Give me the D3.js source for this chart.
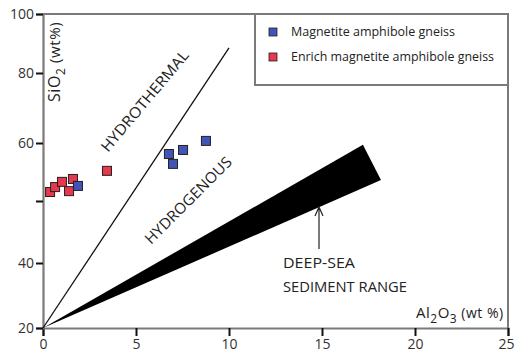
<!DOCTYPE html>
<html><head><meta charset="utf-8">
<script src="https://cdn.jsdelivr.net/npm/d3@7"></script>
<style>body{margin:0;background:#fff}svg{display:block}text{font-family:"Open Sans",sans-serif}</style>
</head><body><svg id="c" width="515" height="358"></svg>
<script>
// ---- data ----
const xTicks = [0, 5, 10, 15, 20, 25];
const yTickValues = [20, 40, 50, 60, 80, 100];
const yTickLabels = ["20", "40", "", "60", "80", "100"];
const seriesNames = ["Magnetite amphibole gneiss", "Enrich magnetite amphibole gneiss"];
const magnetiteAl2O3 = [8.76, 7.53, 6.77, 6.99, 1.88];
const magnetiteSiO2  = [60.6, 58.8, 58.1, 56.4, 52.6];
const enrichAl2O3 = [3.44, 0.38, 0.65, 1.02, 1.40, 1.61];
const enrichSiO2  = [55.2, 51.55, 52.4, 53.3, 51.7, 53.8];
const hydrothermalLine = [[0, 20], [10, 88.5]];
const sedimentWedge = [[0, 20], [17.2, 59.7], [18.17, 53.6]];

// ---- layout ----
const svg = d3.select("#c");
const x = d3.scaleLinear().domain([0, 25]).range([43, 508]);
const y = d3.scaleLinear().domain(yTickValues).range([328, 263, 201, 143, 73, 14]);
const axisCol = "#7a7a7a";

// frame (top and right)
svg.append("path").attr("d", `M${x(0)},${y(100)}H${x(25)}V${y(20)}`)
  .attr("fill", "none").attr("stroke", axisCol).attr("stroke-width", 2);

// legend box
svg.append("rect").attr("x", 255).attr("y", y(100)).attr("width", x(25) - 255).attr("height", 71)
  .attr("fill", "#fff").attr("stroke", axisCol).attr("stroke-width", 2);

// axes
const xAxis = d3.axisBottom(x).tickValues(xTicks).tickSize(8).tickPadding(3).tickFormat(d3.format("d"));
const gx = svg.append("g").attr("transform", `translate(0,${y(20)})`).call(xAxis);
const yAxis = d3.axisLeft(y).tickValues(yTickValues).tickSize(7).tickPadding(2)
  .tickFormat((d, i) => yTickLabels[i]);
const gy = svg.append("g").attr("transform", `translate(${x(0)},0)`).call(yAxis);
[gx, gy].forEach(g => {
  g.select(".domain").attr("stroke", axisCol).attr("stroke-width", 2.2);
  g.selectAll(".tick line").attr("stroke", "#111").attr("stroke-width", 2);
  g.selectAll(".tick text").attr("fill", "#333").style("font-size", "14px").style("font-family", '"Open Sans",sans-serif');
});
gy.selectAll(".tick text").attr("dy", "0.35em");
gx.selectAll(".tick text").filter(d => d === 25).attr("dx", -2);

// wedge
const line = d3.line().x(d => x(d[0])).y(d => y(d[1]));
svg.append("path").attr("d", line(sedimentWedge) + "Z").attr("fill", "#000");
// hydrothermal line
svg.append("path").attr("d", line(hydrothermalLine)).attr("stroke", "#111").attr("stroke-width", 1.3).attr("fill", "none");

// arrow
const ax = 319;
svg.append("path").attr("d", `M${ax},249V208M${ax-4},216L${ax},207L${ax+4},216`)
  .attr("stroke", "#222").attr("stroke-width", 1.2).attr("fill", "none");

// points
const sq = 9;
const pts = (xs, ys, col) => svg.append("g").selectAll("rect").data(xs.map((v, i) => [v, ys[i]])).join("rect")
  .attr("x", d => x(d[0]) - sq / 2).attr("y", d => y(d[1]) - sq / 2).attr("width", sq).attr("height", sq)
  .attr("fill", col).attr("stroke", "#222").attr("stroke-width", 1);
pts(enrichAl2O3, enrichSiO2, "#e8384f");
pts(magnetiteAl2O3, magnetiteSiO2, "#4354b8");

// legend entries
const legCols = ["#4354b8", "#e8384f"];
seriesNames.forEach((n, i) => {
  const cy = 32 + i * 25;
  svg.append("rect").attr("x", 269).attr("y", cy - 4).attr("width", 8).attr("height", 8)
    .attr("fill", legCols[i]).attr("stroke", "#222").attr("stroke-width", 0.8);
  svg.append("text").attr("x", 291).attr("y", cy + 4).attr("fill", "#222").style("font-size", "12px")
    .attr("textLength", i ? 203 : 164).attr("lengthAdjust", "spacingAndGlyphs").text(n);
});

// region labels
svg.append("text").attr("transform", "translate(108,153) rotate(-50)").attr("fill", "#222")
  .style("font-size", "15px").attr("textLength", 127).attr("lengthAdjust", "spacingAndGlyphs").text("HYDROTHERMAL");
svg.append("text").attr("transform", "translate(151,245) rotate(-45)").attr("fill", "#222")
  .style("font-size", "15px").attr("textLength", 116).attr("lengthAdjust", "spacingAndGlyphs").text("HYDROGENOUS");
svg.append("text").attr("x", 283).attr("y", 268).attr("fill", "#222").style("font-size", "15px")
  .attr("textLength", 72).attr("lengthAdjust", "spacingAndGlyphs").text("DEEP-SEA");
svg.append("text").attr("x", 283).attr("y", 292).attr("fill", "#222").style("font-size", "15px")
  .attr("textLength", 124).attr("lengthAdjust", "spacingAndGlyphs").text("SEDIMENT RANGE");

// axis titles
const xt = svg.append("text").attr("x", 416).attr("y", 318).attr("fill", "#222").style("font-size", "15px")
  .style("letter-spacing", "0.5px");
xt.append("tspan").text("Al");
xt.append("tspan").attr("dy", 5).style("font-size", "12px").text("2");
xt.append("tspan").attr("dy", -5).text("O");
xt.append("tspan").attr("dy", 5).style("font-size", "12px").text("3");
xt.append("tspan").attr("dy", -5).style("font-size", "14px").text(" (wt %)");
const yt = svg.append("text").attr("transform", "translate(60,102) rotate(-90)").attr("fill", "#222").style("font-size", "16px")
  .style("letter-spacing", "0.6px");
yt.append("tspan").text("SiO");
yt.append("tspan").attr("dy", 5).style("font-size", "12px").text("2");
yt.append("tspan").attr("dy", -5).style("font-size", "15px").text(" (wt%)");
</script></body></html>
